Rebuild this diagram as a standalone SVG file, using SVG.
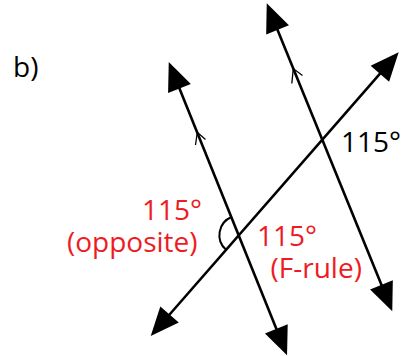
<svg xmlns="http://www.w3.org/2000/svg" width="401" height="356" viewBox="0 0 401 356">
<defs>
<style>
.ln{stroke:#000;stroke-width:2.6;fill:none;marker-start:url(#ah);marker-end:url(#ah)}
.tick{stroke:#000;stroke-width:1.3;fill:none}
.arc{stroke:#000;stroke-width:2;fill:none}
text{font-family:"Open Sans","DejaVu Sans",sans-serif;font-size:28px}
.red{fill:#ED1C24}
.blk{fill:#000}
</style>
<marker id="ah" markerUnits="userSpaceOnUse" markerWidth="30" markerHeight="30" refX="17" refY="0" viewBox="0 -10 22 20" orient="auto-start-reverse" overflow="visible">
<path d="M0,-9 L21,0 L0,9 z" fill="#000"/>
</marker>
</defs>
<rect width="401" height="356" fill="#fff"/>
<g id="connectors">
<path class="ln" d="M170.8,67.0 L285.0,350.3"/>
<path class="ln" d="M268.8,8.4 L390.2,306.3"/>
<path class="ln" d="M395.1,56.3 L154.3,332.0"/>
<path class="tick" d="M195.5,145 L197.3,132.2 L205.5,139.5"/>
<path class="tick" d="M291.8,83.5 L293.3,68.6 L302.5,75.5"/>
<path class="arc" d="M231.6,217.0 A19.5,19.5 0 0 0 226.1,249.8"/>
</g>
<g id="label-b"><text class="blk" x="13" y="77">b)</text></g>
<g id="angle-given"><text class="blk" x="341" y="151.5">115°</text></g>
<g id="angle-opposite"><text class="red" x="142" y="220">115°</text><text class="red" x="67" y="252">(opposite)</text></g>
<g id="angle-frule"><text class="red" x="257" y="246">115°</text><text class="red" x="270.5" y="278">(F-rule)</text></g>
</svg>
